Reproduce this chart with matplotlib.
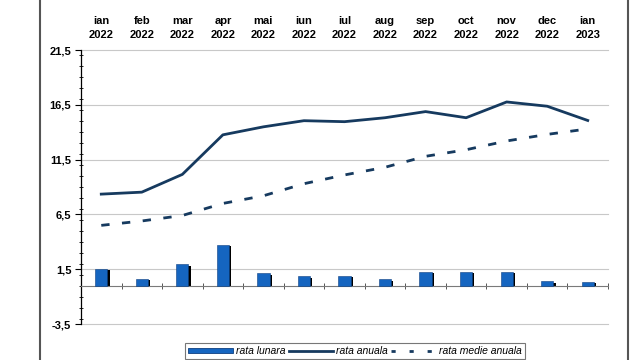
import numpy as np
import matplotlib
matplotlib.use("Agg")
import matplotlib.pyplot as plt
from matplotlib.lines import Line2D
from matplotlib.patches import Patch
from matplotlib.ticker import MultipleLocator, FixedLocator

plt.rcParams['font.family'] = ['Liberation Sans', 'DejaVu Sans']

# data
months = ['ian', 'feb', 'mar', 'apr', 'mai', 'iun', 'iul', 'aug',
          'sep', 'oct', 'nov', 'dec', 'ian']
years = ['2022'] * 12 + ['2023']
rata_lunara = [1.51, 0.65, 1.94, 3.71, 1.12, 0.85, 0.90, 0.58,
               1.26, 1.26, 1.25, 0.40, 0.33]
rata_anuala = [8.35, 8.53, 10.15, 13.76, 14.49, 15.05, 14.96, 15.32,
               15.88, 15.32, 16.76, 16.37, 15.07]
rata_medie = [5.5, 5.9, 6.4, 7.5, 8.2, 9.3, 10.1, 10.8,
              11.8, 12.4, 13.2, 13.8, 14.3]

blue = '#1565c0'
navy = '#163a5f'

x = np.arange(len(months))

fig = plt.figure(figsize=(6.4, 3.6), dpi=100)
ax = fig.add_axes([81 / 640, 36 / 360, 527 / 640, 274 / 360])

# bars with a dark "3d" side
ax.bar(x + 0.05, np.array(rata_lunara) - 0.12, width=0.31, color='black', zorder=2)
ax.bar(x, rata_lunara, width=0.3, color=blue, edgecolor='#0d3f80',
       linewidth=0.4, zorder=3)

ax.plot(x, rata_anuala, color=navy, lw=2.0, zorder=4)
ax.plot(x, rata_medie, color=navy, lw=2.0, dashes=(3, 4.5), zorder=4)

ax.set_xlim(-0.5, 12.5)
ax.set_ylim(-3.5, 21.5)

# y axis
yt = np.arange(-3.5, 21.6, 5)
ax.set_yticks(yt)
ax.set_yticklabels([f'{v:.1f}'.replace('.', ',') for v in yt],
                   fontsize=8, fontweight='bold')
ax.yaxis.set_minor_locator(MultipleLocator(1))
ax.tick_params(axis='y', which='major', direction='out', length=4, width=0.8, pad=3)
ax.tick_params(axis='y', which='minor', direction='inout', length=3, width=0.6)
ax.grid(axis='y', color='#c8c8c8', lw=0.8, zorder=0, clip_on=False)
ax.set_axisbelow(True)

# x axis: category names above the plot, zero line with ticks between categories
ax.set_xticks(x)
ax.set_xticklabels([])
ax.xaxis.set_minor_locator(FixedLocator(np.arange(-0.5, 12.6, 1)))
ax.tick_params(axis='x', which='major', bottom=False, top=False,
               labelbottom=False, labeltop=False)
ax.tick_params(axis='x', which='minor', bottom=True, top=False,
               direction='inout', length=5, width=0.7, color='#555555')
for xi, m, y in zip(x, months, years):
    ax.text(xi, 1 + 10 / 274, f'{m}\n{y}', transform=ax.get_xaxis_transform(),
            ha='center', va='bottom', fontsize=8, fontweight='bold',
            linespacing=1.45)

ax.spines['bottom'].set_position(('data', 0))
ax.spines['bottom'].set_color('#7a7a7a')
ax.spines['top'].set_visible(False)
ax.spines['right'].set_visible(False)
ax.spines['left'].set_linewidth(0.9)

# outer frame (left and right edges visible)
for xf in (40 / 640, 628 / 640):
    fig.add_artist(Line2D([xf, xf], [0, 1], transform=fig.transFigure,
                          color='#555555', lw=1.5))

handles = [
    Patch(facecolor=blue, edgecolor='#0d3f80', linewidth=0.6),
    Line2D([], [], color=navy, lw=2.0),
    Line2D([], [], color=navy, lw=2.0, dashes=(1.5, 5)),
]
labels = ['rata lunara', 'rata anuala', 'rata medie anuala']
leg = fig.legend(handles, labels, loc='upper center',
                 bbox_to_anchor=(355 / 640, 1 - 343 / 360),
                 ncol=3, frameon=True, fancybox=False,
                 prop={'style': 'italic', 'size': 7.5},
                 handlelength=4.3, handleheight=0.35, columnspacing=0.3,
                 handletextpad=0.3, borderpad=0.3, borderaxespad=0)
leg.get_frame().set_edgecolor('#555555')
leg.get_frame().set_linewidth(0.8)

fig.savefig('out.png', dpi=100)
